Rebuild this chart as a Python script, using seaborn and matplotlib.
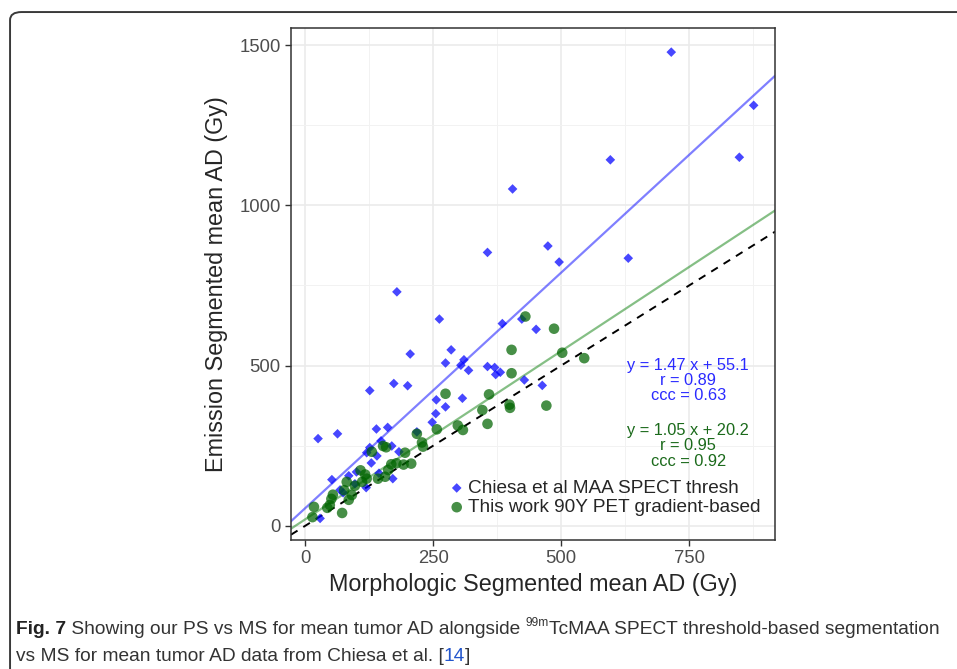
import numpy as np
import pandas as pd
import matplotlib
matplotlib.use("Agg")
import matplotlib.pyplot as plt
import seaborn as sns
from matplotlib.patches import FancyBboxPatch

# ---------------------------------------------------------------
# Data (mean AD, Gy)
# ---------------------------------------------------------------
# Chiesa et al MAA SPECT threshold segmentation (blue diamonds)
chiesa_ms = [715, 876, 596, 848, 405, 474, 496, 356, 631, 179,
             262, 385, 423, 451, 205, 285, 274, 310, 304, 319,
             356, 370, 372, 381, 428, 463, 173, 200, 126, 256,
             307, 274, 255, 248, 218, 25, 63, 139, 161, 148,
             169, 126, 120, 183, 140, 129, 52, 85, 100, 144,
             97, 68, 74, 119, 171, 29]
chiesa_es = [1478, 1312, 1142, 1150, 1051, 873, 823, 853, 835, 730,
             645, 631, 645, 613, 536, 549, 508, 518, 501, 485,
             497, 494, 472, 479, 455, 438, 444, 437, 422, 393,
             398, 371, 350, 323, 293, 272, 287, 302, 307, 265,
             249, 244, 228, 231, 218, 196, 144, 156, 168, 164,
             131, 112, 103, 119, 147, 23]

# This work 90Y PET gradient-based segmentation (green circles)
pet_ms = [430, 486, 403, 502, 545, 403, 274, 359, 399, 400,
          346, 471, 356, 298, 308, 257, 218, 228, 230, 152,
          158, 195, 130, 168, 178, 192, 207, 162, 156, 142,
          108, 117, 120, 111, 81, 97, 91, 85, 76, 54,
          51, 48, 43, 17, 72, 14]
pet_es = [653, 615, 549, 540, 523, 476, 412, 410, 378, 368,
          361, 375, 318, 313, 299, 301, 287, 260, 247, 249,
          245, 228, 231, 192, 195, 191, 194, 174, 153, 147,
          173, 160, 147, 137, 137, 125, 96, 81, 111, 97,
          84, 65, 56, 59, 40, 27]

series_labels = ["Chiesa et al MAA SPECT thresh",
                 "This work 90Y PET gradient-based"]
fit_chiesa = (1.47, 55.1)   # slope, intercept
fit_pet = (1.05, 20.2)
stats_chiesa = ["y = 1.47 x + 55.1", "r = 0.89", "ccc = 0.63"]
stats_pet = ["y = 1.05 x + 20.2", "r = 0.95", "ccc = 0.92"]

x_ticks = [0, 250, 500, 750]
x_minor = [125, 375, 625, 875]
y_ticks = [0, 500, 1000, 1500]
y_minor = [250, 750, 1250]

# ---------------------------------------------------------------
# Figure
# ---------------------------------------------------------------
sns.set_theme(style="white")
plt.rcParams["font.family"] = ["Liberation Sans", "DejaVu Sans"]

fig = plt.figure(figsize=(9.57, 6.69), dpi=100)
fig.patch.set_facecolor("white")

# rounded frame around figure + caption
frame = FancyBboxPatch((0.0105, -0.2), 1.2, 1.182,
                       boxstyle="round,pad=0,rounding_size=0.012",
                       transform=fig.transFigure, fill=False,
                       edgecolor="#3a3a3a", linewidth=1.4)
fig.add_artist(frame)

ax = fig.add_axes([0.304, 0.193, 0.506, 0.765])

df_c = pd.DataFrame({"ms": chiesa_ms, "es": chiesa_es})
df_p = pd.DataFrame({"ms": pet_ms, "es": pet_es})

sns.scatterplot(data=df_c, x="ms", y="es", marker="D", s=24,
                color="blue", alpha=0.72, edgecolor="none", ax=ax,
                label=series_labels[0], zorder=3)
sns.scatterplot(data=df_p, x="ms", y="es", marker="o", s=58,
                color="darkgreen", alpha=0.72, edgecolor="none", ax=ax,
                label=series_labels[1], zorder=3)

ax.axline((0, fit_chiesa[1]), slope=fit_chiesa[0], color="blue",
          alpha=0.5, lw=1.6, zorder=2)
ax.axline((0, fit_pet[1]), slope=fit_pet[0], color="forestgreen",
          alpha=0.55, lw=1.6, zorder=2)
ax.axline((0, 0), slope=1, color="black", ls=(0, (4, 3.5)), lw=1.4,
          zorder=2)

ax.set_xlim(-28, 918)
ax.set_ylim(-44, 1553)
ax.set_xticks(x_ticks)
ax.set_yticks(y_ticks)
ax.set_xticks(x_minor, minor=True)
ax.set_yticks(y_minor, minor=True)
ax.grid(which="major", color="#ebebeb", lw=1.2, zorder=0)
ax.grid(which="minor", color="#f2f2f2", lw=0.7, zorder=0)
ax.set_axisbelow(True)
ax.tick_params(which="major", length=4, width=1.0, color="#333333",
               labelcolor="#4d4d4d", labelsize=13.3, direction="out",
               bottom=True, left=True)
ax.tick_params(which="minor", length=0)
for sp in ax.spines.values():
    sp.set_color("#333333")
    sp.set_linewidth(1.1)

ax.set_xlabel("Morphologic Segmented mean AD (Gy)", fontsize=16.8,
              labelpad=4)
ax.set_ylabel("Emission Segmented mean AD (Gy)", fontsize=16.8,
              labelpad=8)

# regression annotations
for i, line in enumerate(stats_chiesa):
    ax.text(748, 499 - 47 * i, line, color="#2a2aff", fontsize=11.8,
            ha="center", va="center")
for i, line in enumerate(stats_pet):
    ax.text(748, 296 - 47 * i, line, color="#1b6a1b", fontsize=11.8,
            ha="center", va="center")

ax.legend(loc="center left", bbox_to_anchor=(0.307, 0.082),
          frameon=False, fontsize=13.7, handletextpad=0.1,
          labelspacing=0.1, borderaxespad=0, handlelength=1.0)

# caption with mixed styles
cap_font = ["Liberation Sans Narrow", "Liberation Sans", "DejaVu Sans"]
renderer = fig.canvas.get_renderer()


def put(x, y, s, size=13.8, **kw):
    t = fig.text(x, y, s, family=cap_font, fontsize=size, va="baseline",
                 **kw)
    bb = t.get_window_extent(renderer)
    return bb.x1 / fig.bbox.width


y1 = 1 - 634 / 669
y2 = 1 - 661 / 669
x = put(16 / 957, y1, "Fig. 7", weight="bold", color="#222222")
x = put(x, y1, " Showing our PS vs MS for mean tumor AD alongside ",
        color="#333333")
x = put(x, y1 + 0.012, "99m", size=8.6, color="#333333")
put(x, y1, "TcMAA SPECT threshold-based segmentation", color="#333333")
x = put(16 / 957, y2, "vs MS for mean tumor AD data from Chiesa et al. [",
        color="#333333")
x = put(x, y2, "14", color="#2255cc")
put(x, y2, "]", color="#333333")

fig.savefig("out.png", dpi=100)
